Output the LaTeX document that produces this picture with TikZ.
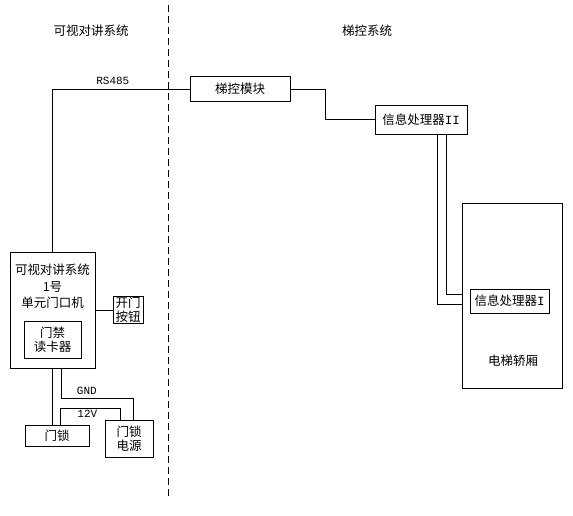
\documentclass[tikz,border=0pt]{standalone}
\usepackage{fontspec}
\setmainfont{Noto Sans CJK SC}
\newfontfamily\latinfont{Liberation Mono}
\usetikzlibrary{positioning}

\begin{document}
\begin{tikzpicture}[x = 1pt, y = -1pt, line width = 0.8pt,
	box/.style = {draw, rectangle, inner sep = 1pt, align = center, font = \fontsize{12.5}{14}\selectfont},
	lbl/.style = {inner sep = 0pt, font = \fontsize{12.5}{14}\selectfont},
	sig/.style = {inner sep = 0pt, font = \latinfont\fontsize{11}{12}\selectfont}]

	\useasboundingbox (0, 0) rectangle (573, 516);

	% System titles and divider

	\node [lbl] (titleleft) at (91, 31) {可视对讲系统};
	\node [lbl] (titleright) at (367, 31) {梯控系统};
	\draw [dash pattern = on 7pt off 4pt] (168, 5) coordinate (divtop) -- (168, 496) coordinate (divbot);

	% Elevator control side

	\node [box, minimum width = 100, minimum height = 25] (ctrl) at (240, 89) {梯控模块};
	\node [box, minimum width = 92, minimum height = 29] (procb) at (421, 119.5) {信息处理器{\latinfont II}};
	\node [draw, minimum width = 100, minimum height = 185] (car) at (512, 295.5) {};
	\node [box, minimum width = 79, minimum height = 24] (proca) at (509.5, 301) {信息处理器{\latinfont I}};
	\node [lbl] (carname) at (513, 361) {电梯轿厢};

	\draw (ctrl.east) -- ++(35, 0) |- (procb.west);
	\draw ([xshift = 16pt] procb.south) |- (car.west |- 0, 304);
	\draw ([xshift = 25pt] procb.south) |- (car.west |- 0, 294);

	% Door station side

	\node [draw, minimum width = 85, minimum height = 116] (unit) at (52.5, 310) {};
	\node [lbl] (unitsys) at (52.5, 270) {可视对讲系统};
	\node [lbl] (unitno) at (52.5, 287) {1号};
	\node [lbl] (unitname) at (52.5, 303) {单元门口机};
	\node [box, minimum width = 57, minimum height = 37] (reader) at (52.5, 339.5) {门禁\\读卡器};
	\node [box, minimum width = 30, minimum height = 27] (button) at (128, 310) {开门\\按钮};
	\node [box, minimum width = 64, minimum height = 21] (lock) at (57, 435.5) {门锁};
	\node [box, minimum width = 48, minimum height = 37] (power) at (129, 438.5) {门锁\\电源};

	\draw (unit.north) |- (ctrl.west) node [sig, pos = 0.72, above = 4pt] (bus) {RS485};
	\draw (unit.east) -- (button.west);
	\draw (unit.south) -- (unit.south |- lock.north);

	% Lock wiring

	\draw ([xshift = 9pt] unit.south) -- ++(0, 30) coordinate (gnd) -| ([xshift = 4pt] power.north);
	\node [sig, above right = 3pt and 15pt] (gndlabel) at (gnd) {GND};
	\draw ([xshift = 3pt] lock.north) -- ++(0, -16) coordinate (vcc) -| ([xshift = -9pt] power.north);
	\node [sig, below right = 1pt and 17pt] (vcclabel) at (vcc) {12V};

\end{tikzpicture}
\end{document}
